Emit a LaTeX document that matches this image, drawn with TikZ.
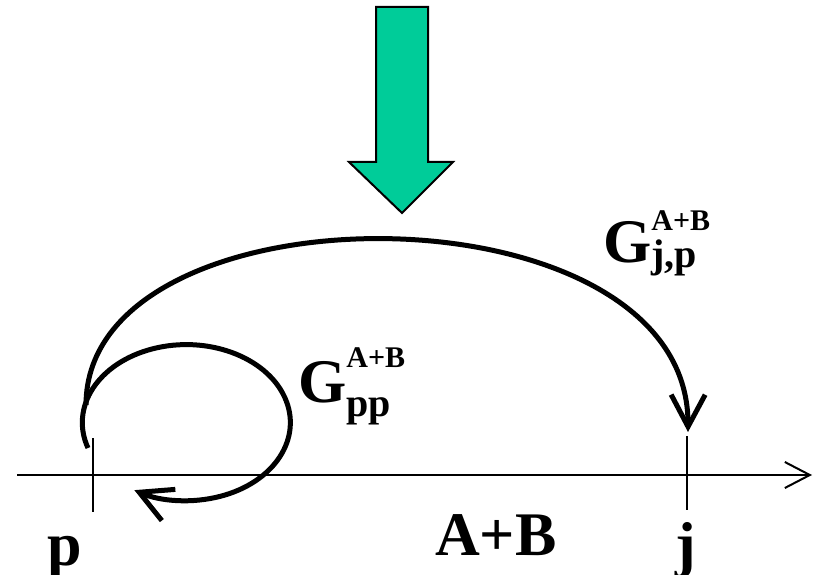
\documentclass[tikz,border=0pt]{standalone}
\usepackage{fontspec}
\setmainfont{Liberation Serif}
\usetikzlibrary{arrows.meta, positioning, calc}
\definecolor{inflow}{HTML}{00CC99}
% G with a superscript and a subscript, each raised by hand
\newcommand{\gprop}[4]{G\rlap{\raisebox{#3}{\fontsize{30}{30}\selectfont #1}}%
  \raisebox{#4}{\fontsize{40}{40}\selectfont #2}}
\tikzset{
  axisline/.style={line width=2pt, -{Straight Barb[length=25pt, width=26pt]}},
  tickmark/.style={line width=2pt},
  prop/.style={line width=5pt, -{Straight Barb[length=32pt, width=34pt]}},
  lbl/.style={font=\fontsize{62}{62}\selectfont\bfseries, inner sep=0pt, anchor=base west},
  inject/.style={draw=black, line width=2pt, fill=inflow, line join=miter},
}

\begin{document}
\begin{tikzpicture}[x=1pt, y=-1pt]
  \useasboundingbox (0,0) rectangle (817,575);

  % --- the axis and its two marks -----------------------------------------
  \coordinate (left) at (17,475);
  \coordinate (right) at (812,475);
  \coordinate (p) at (93,475);
  \coordinate (j) at (687,475);
  \draw[axisline] (left) -- (right);
  \draw[tickmark] ($(p)+(0,-37)$) -- ($(p)+(0,37)$);
  \draw[tickmark] ($(j)+(0,-39)$) -- ($(j)+(0,35)$);

  \node[lbl] (plbl) at (47,565) {p};
  \node[lbl, anchor=base] (jlbl) at (686,565) {j};
  \node[lbl] (ablbl) at (435,555) {A+B};

  % --- the incoming arrow -------------------------------------------------
  \draw[inject] (376,7) -- (428,7) -- (428,162) -- (453,162) -- (402,213)
    -- (349,162) -- (376,162) -- cycle;

  % --- the two propagators ------------------------------------------------
  \coordinate (pstart) at (86,405);
  \coordinate (jtop) at (688,432);
  \draw[prop] (pstart) .. controls (86,180) and (689,180) .. (jtop);

  \coordinate (lstart) at (88,448);
  \draw[prop] (lstart) arc[start angle=161, end angle=480, x radius=104, y radius=78];

  \node[lbl] (gjp) at (603,262) {\gprop{A+B}{j,p}{32pt}{-5pt}};
  \node[lbl] (gpp) at (298,402) {\gprop{A+B}{pp}{35pt}{-14pt}};

\end{tikzpicture}
\end{document}
